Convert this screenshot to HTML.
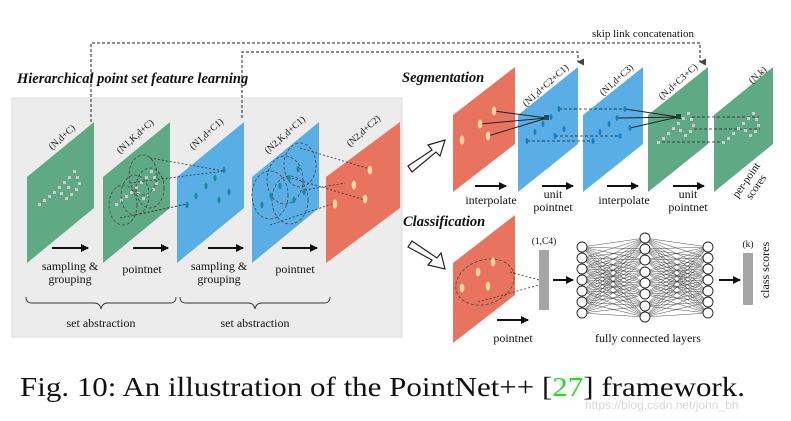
<!DOCTYPE html>
<html><head><meta charset="utf-8"><style>
html,body{margin:0;padding:0;background:#fff;}
svg{display:block;}
text{font-family:"Liberation Serif",serif;fill:#111;}
</style></head><body>
<svg width="791" height="421" viewBox="0 0 791 421" xmlns="http://www.w3.org/2000/svg">
<defs>
<marker id="ah" markerWidth="8" markerHeight="8" refX="7" refY="4" orient="auto" markerUnits="userSpaceOnUse"><path d="M0,0 L8,4 L0,8 z" fill="#111"/></marker>
<marker id="ah2" markerWidth="7" markerHeight="7" refX="3.5" refY="6" orient="auto" markerUnits="userSpaceOnUse"><path d="M0,0 L7,0 L3.5,7 z" fill="#444"/></marker>
</defs>
<!-- gray box -->
<rect x="12" y="98" width="390" height="239" fill="#ececec" stroke="#ddd"/>
<!-- skip links -->
<path d="M91,122 V43 H700 V62" fill="none" stroke="#222" stroke-dasharray="3,2" marker-end="url(#ah2)"/>
<path d="M242,118 V52 H578 V62" fill="none" stroke="#222" stroke-dasharray="3,2" marker-end="url(#ah2)"/>
<text x="643" y="37" font-size="11" text-anchor="middle">skip link concatenation</text>
<!-- titles -->
<text x="17" y="83" font-size="14.5" font-weight="bold" font-style="italic">Hierarchical point set feature learning</text>
<text x="402" y="82" font-size="14.5" font-weight="bold" font-style="italic">Segmentation</text>
<text x="403" y="226" font-size="14.5" font-weight="bold" font-style="italic">Classification</text>

<!-- left panels -->
<polygon points="27,177 94,122 94,208 27,263" fill="#5faa84"/>
<polygon points="103,177 170,122 170,208 103,263" fill="#5faa84"/>
<polygon points="177,177 244,122 244,208 177,263" fill="#5aaee6"/>
<polygon points="252,177 319,122 319,208 252,263" fill="#5aaee6"/>
<polygon points="326,177 400,122 400,208 326,263" fill="#e8735f"/>
<!-- gray points green1 -->
<g fill="#ccc">
<rect x="38" y="203" width="3" height="3"/><rect x="43" y="199" width="3" height="3"/><rect x="48" y="195" width="3" height="3"/><rect x="53" y="191" width="3" height="3"/><rect x="58" y="186" width="3" height="3"/><rect x="63" y="181" width="3" height="3"/><rect x="68" y="176" width="3" height="3"/><rect x="73" y="170" width="3" height="3"/><rect x="76" y="176" width="3" height="3"/><rect x="78" y="182" width="3" height="3"/><rect x="75" y="188" width="3" height="3"/><rect x="70" y="193" width="3" height="3"/><rect x="65" y="197" width="3" height="3"/><rect x="60" y="192" width="3" height="3"/><rect x="67" y="186" width="3" height="3"/>
</g>
<g fill="#ccc">
<rect x="115" y="203" width="3" height="3"/><rect x="120" y="199" width="3" height="3"/><rect x="125" y="195" width="3" height="3"/><rect x="130" y="191" width="3" height="3"/><rect x="135" y="186" width="3" height="3"/><rect x="140" y="181" width="3" height="3"/><rect x="145" y="176" width="3" height="3"/><rect x="150" y="170" width="3" height="3"/><rect x="153" y="176" width="3" height="3"/><rect x="155" y="182" width="3" height="3"/><rect x="152" y="188" width="3" height="3"/><rect x="147" y="193" width="3" height="3"/><rect x="142" y="197" width="3" height="3"/><rect x="137" y="192" width="3" height="3"/>
</g>
<g fill="none" stroke="#444" stroke-dasharray="3,2" stroke-width="0.8">
<ellipse cx="123" cy="205" rx="14" ry="20"/><ellipse cx="135" cy="195" rx="14" ry="20"/><ellipse cx="150" cy="188" rx="14" ry="20"/><ellipse cx="143" cy="175" rx="14" ry="20"/>
<ellipse cx="270" cy="195" rx="18" ry="24"/><ellipse cx="285" cy="180" rx="18" ry="24"/><ellipse cx="300" cy="165" rx="16" ry="22"/><ellipse cx="290" cy="200" rx="18" ry="24"/>
</g>
<g stroke="#333" stroke-dasharray="2,2" stroke-width="0.8">
<line x1="150" y1="158" x2="224" y2="171"/><line x1="120" y1="218" x2="187" y2="204"/><line x1="130" y1="183" x2="224" y2="171"/><line x1="140" y1="214" x2="187" y2="204"/>
<line x1="300" y1="148" x2="370" y2="169"/><line x1="270" y1="225" x2="335" y2="203"/><line x1="288" y1="177" x2="365" y2="200"/><line x1="305" y1="190" x2="345" y2="183"/>
</g>
<g fill="#1a8aa0">
<ellipse cx="224" cy="170" rx="1.6" ry="3.2"/><ellipse cx="215" cy="178" rx="1.6" ry="3.2"/><ellipse cx="206" cy="186" rx="1.6" ry="3.2"/><ellipse cx="196" cy="196" rx="1.6" ry="3.2"/><ellipse cx="187" cy="205" rx="1.6" ry="3.2"/><ellipse cx="219" cy="200" rx="1.6" ry="3.2"/><ellipse cx="229" cy="192" rx="1.6" ry="3.2"/>
<ellipse cx="298" cy="169" rx="1.6" ry="3.2"/><ellipse cx="289" cy="178" rx="1.6" ry="3.2"/><ellipse cx="280" cy="186" rx="1.6" ry="3.2"/><ellipse cx="271" cy="196" rx="1.6" ry="3.2"/><ellipse cx="262" cy="205" rx="1.6" ry="3.2"/><ellipse cx="294" cy="200" rx="1.6" ry="3.2"/><ellipse cx="304" cy="192" rx="1.6" ry="3.2"/>
</g>
<g fill="#fcd89a">
<ellipse cx="370" cy="170" rx="2.3" ry="4.5"/><ellipse cx="354" cy="185" rx="2.3" ry="4.5"/><ellipse cx="365" cy="199" rx="2.3" ry="4.5"/><ellipse cx="335" cy="204" rx="2.3" ry="4.5"/>
</g>
<g font-size="9.5">
<text transform="translate(52,150) rotate(-42)">(N,d+C)</text>
<text transform="translate(120,154) rotate(-42)">(N1,K,d+C)</text>
<text transform="translate(193,150) rotate(-42)">(N1,d+C1)</text>
<text transform="translate(268,154) rotate(-42)">(N2,K,d+C1)</text>
<text transform="translate(350,147) rotate(-42)">(N2,d+C2)</text>
</g>
<g stroke="#111" stroke-width="2" marker-end="url(#ah)">
<line x1="52" y1="248" x2="88" y2="248"/><line x1="133" y1="248" x2="168" y2="248"/><line x1="208" y1="248" x2="243" y2="248"/><line x1="282" y1="248" x2="317" y2="248"/>
</g>
<g font-size="12" text-anchor="middle">
<text x="70" y="270">sampling &amp;</text><text x="70" y="283">grouping</text>
<text x="142" y="273">pointnet</text>
<text x="219" y="270">sampling &amp;</text><text x="219" y="283">grouping</text>
<text x="295" y="273">pointnet</text>
<text x="101" y="327">set abstraction</text><text x="255" y="327">set abstraction</text>
</g>
<g fill="none" stroke="#333" stroke-width="0.9">
<path d="M26,297 q0,6 6,6 h62 q6,0 7,6 q1,-6 7,-6 h62 q6,0 6,-6"/>
<path d="M180,297 q0,6 6,6 h62 q6,0 7,6 q1,-6 7,-6 h62 q6,0 6,-6"/>
</g>

<!-- hollow arrows -->
<path d="M408,166 L432,150 L428,145 L445,140 L440,156 L436,152 L412,172 z" fill="#fff" stroke="#222" stroke-width="1.2"/>
<path d="M408,247 L432,260 L428,265 L445,269 L441,253 L437,258 L412,241 z" fill="#fff" stroke="#222" stroke-width="1.2"/>

<!-- right seg panels -->
<polygon points="453,115 515,67 515,144 453,192" fill="#e8735f"/>
<polygon points="518,115 578,67 578,144 518,192" fill="#5aaee6"/>
<polygon points="583,115 643,67 643,144 583,192" fill="#5aaee6"/>
<polygon points="648,115 708,67 708,144 648,192" fill="#5faa84"/>
<polygon points="714,115 773,67 773,144 714,192" fill="#5faa84"/>
<g font-size="9.5">
<text transform="translate(526,107) rotate(-42)">(N1,d+C2+C1)</text>
<text transform="translate(603,96) rotate(-42)">(N1,d+C3)</text>
<text transform="translate(662,100) rotate(-42)">(N,d+C3+C)</text>
<text transform="translate(752,84) rotate(-42)">(N,k)</text>
</g>
<g stroke="#222" stroke-width="1">
<line x1="494" y1="111" x2="547" y2="118"/><line x1="480" y1="124" x2="547" y2="118"/><line x1="488" y1="136" x2="547" y2="118"/>
<line x1="625" y1="109" x2="678" y2="117"/><line x1="617" y1="118" x2="678" y2="117"/><line x1="630" y1="128" x2="678" y2="117"/>
</g>
<g stroke="#222" stroke-dasharray="3,2" stroke-width="0.8">
<line x1="559" y1="109" x2="625" y2="109"/><line x1="555" y1="136" x2="620" y2="136"/><line x1="527" y1="141" x2="593" y2="141"/>
<line x1="692" y1="117" x2="759" y2="117"/><line x1="694" y1="129" x2="760" y2="129"/><line x1="657" y1="142" x2="722" y2="142"/>
</g>
<g fill="#fcd89a"><ellipse cx="494" cy="111" rx="2.3" ry="4.5"/><ellipse cx="480" cy="124" rx="2.3" ry="4.5"/><ellipse cx="488" cy="136" rx="2.3" ry="4.5"/><ellipse cx="462" cy="140" rx="2.3" ry="4.5"/></g>
<g fill="#1a7fc0">
<ellipse cx="559" cy="109" rx="1.5" ry="3"/><ellipse cx="551" cy="117" rx="1.5" ry="3"/><ellipse cx="543" cy="124" rx="1.5" ry="3"/><ellipse cx="535" cy="132" rx="1.5" ry="3"/><ellipse cx="527" cy="141" rx="1.5" ry="3"/><ellipse cx="555" cy="136" rx="1.5" ry="3"/><ellipse cx="564" cy="129" rx="1.5" ry="3"/>
<ellipse cx="625" cy="109" rx="1.5" ry="3"/><ellipse cx="617" cy="118" rx="1.5" ry="3"/><ellipse cx="609" cy="124" rx="1.5" ry="3"/><ellipse cx="600" cy="132" rx="1.5" ry="3"/><ellipse cx="593" cy="141" rx="1.5" ry="3"/><ellipse cx="620" cy="136" rx="1.5" ry="3"/><ellipse cx="630" cy="128" rx="1.5" ry="3"/>
</g>
<rect x="544" y="115" width="5" height="5" fill="#1a4f70"/><rect x="676" y="114" width="5" height="5" fill="#1a4f30"/>
<g fill="#ccc">
<rect x="657" y="141" width="3" height="3"/><rect x="662" y="137" width="3" height="3"/><rect x="667" y="132" width="3" height="3"/><rect x="672" y="127" width="3" height="3"/><rect x="677" y="122" width="3" height="3"/><rect x="682" y="117" width="3" height="3"/><rect x="687" y="112" width="3" height="3"/><rect x="690" y="118" width="3" height="3"/><rect x="692" y="124" width="3" height="3"/><rect x="689" y="130" width="3" height="3"/><rect x="684" y="134" width="3" height="3"/><rect x="679" y="129" width="3" height="3"/>
<rect x="722" y="141" width="3" height="3"/><rect x="727" y="137" width="3" height="3"/><rect x="732" y="132" width="3" height="3"/><rect x="737" y="127" width="3" height="3"/><rect x="742" y="122" width="3" height="3"/><rect x="747" y="117" width="3" height="3"/><rect x="752" y="112" width="3" height="3"/><rect x="755" y="118" width="3" height="3"/><rect x="757" y="124" width="3" height="3"/><rect x="754" y="130" width="3" height="3"/><rect x="749" y="134" width="3" height="3"/><rect x="744" y="129" width="3" height="3"/>
</g>
<g stroke="#111" stroke-width="2" marker-end="url(#ah)">
<line x1="475" y1="186" x2="506" y2="186"/><line x1="542" y1="186" x2="573" y2="186"/><line x1="607" y1="186" x2="638" y2="186"/><line x1="673" y1="186" x2="704" y2="186"/>
<line x1="497" y1="320" x2="528" y2="320"/><line x1="553" y1="280" x2="573" y2="280"/><line x1="719" y1="280" x2="740" y2="280"/>
</g>
<g font-size="12" text-anchor="middle">
<text x="491" y="204">interpolate</text>
<text x="553" y="198">unit</text><text x="553" y="211">pointnet</text>
<text x="624" y="204">interpolate</text>
<text x="688" y="198">unit</text><text x="688" y="211">pointnet</text>
<text x="513" y="342">pointnet</text>
<text x="648" y="342">fully connected layers</text>
</g>
<text transform="translate(749,182) rotate(-55)" font-size="11" text-anchor="middle"><tspan x="0" y="0">per-point</tspan><tspan x="0" y="12">scores</tspan></text>

<!-- classification -->
<polygon points="453,263 515,215 515,295 453,343" fill="#e8735f"/>
<ellipse cx="485" cy="282" rx="30" ry="22" transform="rotate(-20 485 282)" fill="none" stroke="#444" stroke-dasharray="3,2" stroke-width="0.8"/>
<g stroke="#333" stroke-dasharray="2,2" stroke-width="0.8"><line x1="510" y1="272" x2="539" y2="280"/><line x1="478" y1="302" x2="539" y2="285"/></g>
<g fill="#fcd89a"><ellipse cx="493" cy="262" rx="2.3" ry="4.5"/><ellipse cx="478" cy="272" rx="2.3" ry="4.5"/><ellipse cx="488" cy="286" rx="2.3" ry="4.5"/><ellipse cx="462" cy="288" rx="2.3" ry="4.5"/></g>
<rect x="539" y="250" width="10" height="60" fill="#a6a6a6"/>
<text x="544" y="244" font-size="9.5" text-anchor="middle">(1,C4)</text>
<rect x="743" y="253" width="10" height="52" fill="#a6a6a6"/>
<text x="748" y="247" font-size="9.5" text-anchor="middle">(k)</text>
<text transform="translate(769,270) rotate(-90)" font-size="12" text-anchor="middle">class scores</text>
<g id="nn" stroke="#222" stroke-width="0.4">
<!-- connections generated -->
<path d="M582,247 L645,238 M582,247 L645,249 M582,247 L645,260 M582,247 L645,272 M582,247 L645,283 M582,247 L645,294 M582,247 L645,306 M582,247 L645,317
M582,258 L645,238 M582,258 L645,249 M582,258 L645,260 M582,258 L645,272 M582,258 L645,283 M582,258 L645,294 M582,258 L645,306 M582,258 L645,317
M582,269 L645,238 M582,269 L645,249 M582,269 L645,260 M582,269 L645,272 M582,269 L645,283 M582,269 L645,294 M582,269 L645,306 M582,269 L645,317
M582,280 L645,238 M582,280 L645,249 M582,280 L645,260 M582,280 L645,272 M582,280 L645,283 M582,280 L645,294 M582,280 L645,306 M582,280 L645,317
M582,291 L645,238 M582,291 L645,249 M582,291 L645,260 M582,291 L645,272 M582,291 L645,283 M582,291 L645,294 M582,291 L645,306 M582,291 L645,317
M582,302 L645,238 M582,302 L645,249 M582,302 L645,260 M582,302 L645,272 M582,302 L645,283 M582,302 L645,294 M582,302 L645,306 M582,302 L645,317
M582,313 L645,238 M582,313 L645,249 M582,313 L645,260 M582,313 L645,272 M582,313 L645,283 M582,313 L645,294 M582,313 L645,306 M582,313 L645,317
M708,247 L645,238 M708,247 L645,249 M708,247 L645,260 M708,247 L645,272 M708,247 L645,283 M708,247 L645,294 M708,247 L645,306 M708,247 L645,317
M708,258 L645,238 M708,258 L645,249 M708,258 L645,260 M708,258 L645,272 M708,258 L645,283 M708,258 L645,294 M708,258 L645,306 M708,258 L645,317
M708,269 L645,238 M708,269 L645,249 M708,269 L645,260 M708,269 L645,272 M708,269 L645,283 M708,269 L645,294 M708,269 L645,306 M708,269 L645,317
M708,280 L645,238 M708,280 L645,249 M708,280 L645,260 M708,280 L645,272 M708,280 L645,283 M708,280 L645,294 M708,280 L645,306 M708,280 L645,317
M708,291 L645,238 M708,291 L645,249 M708,291 L645,260 M708,291 L645,272 M708,291 L645,283 M708,291 L645,294 M708,291 L645,306 M708,291 L645,317
M708,302 L645,238 M708,302 L645,249 M708,302 L645,260 M708,302 L645,272 M708,302 L645,283 M708,302 L645,294 M708,302 L645,306 M708,302 L645,317
M708,313 L645,238 M708,313 L645,249 M708,313 L645,260 M708,313 L645,272 M708,313 L645,283 M708,313 L645,294 M708,313 L645,306 M708,313 L645,317"/>
</g>
<g fill="#fff" stroke="#222" stroke-width="0.9">
<circle cx="582" cy="247" r="5"/><circle cx="582" cy="258" r="5"/><circle cx="582" cy="269" r="5"/><circle cx="582" cy="280" r="5"/><circle cx="582" cy="291" r="5"/><circle cx="582" cy="302" r="5"/><circle cx="582" cy="313" r="5"/>
<circle cx="645" cy="238" r="5"/><circle cx="645" cy="249" r="5"/><circle cx="645" cy="260" r="5"/><circle cx="645" cy="272" r="5"/><circle cx="645" cy="283" r="5"/><circle cx="645" cy="294" r="5"/><circle cx="645" cy="306" r="5"/><circle cx="645" cy="317" r="5"/>
<circle cx="708" cy="247" r="5"/><circle cx="708" cy="258" r="5"/><circle cx="708" cy="269" r="5"/><circle cx="708" cy="280" r="5"/><circle cx="708" cy="291" r="5"/><circle cx="708" cy="302" r="5"/><circle cx="708" cy="313" r="5"/>
</g>

<!-- caption -->
<text x="20" y="396" font-size="27" textLength="725" lengthAdjust="spacingAndGlyphs">Fig. 10: An illustration of the PointNet++ [<tspan fill="#1ee01e">27</tspan>] framework.</text>
<text x="585" y="409" font-size="12" fill="#ddd" style="fill:#d8d8d8;font-family:'Liberation Sans',sans-serif">https://blog.csdn.net/john_bh</text>
</svg>
</body></html>
